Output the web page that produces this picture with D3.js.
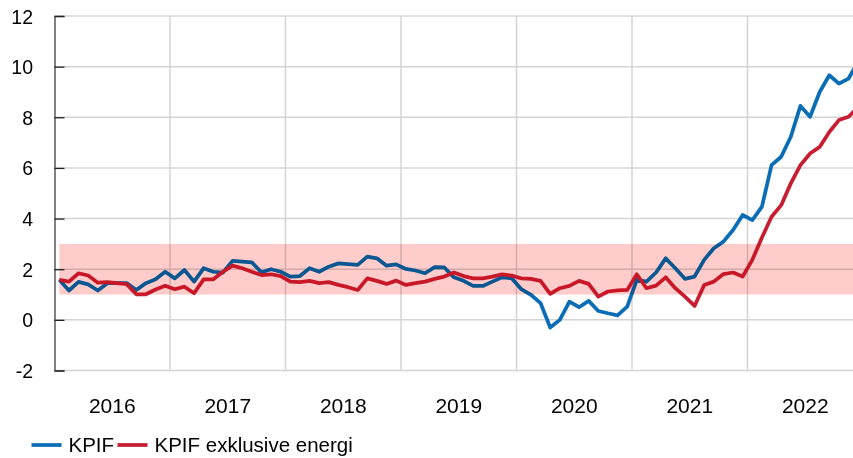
<!DOCTYPE html>
<html>
<head>
<meta charset="utf-8">
<script src="https://cdn.jsdelivr.net/npm/d3@7"></script>
<style>
  body { margin: 0; background: #fff; overflow: hidden; }
  svg { display: block; font-family: "Liberation Sans", Arial, sans-serif; }
</style>
</head>
<body>
<svg id="chart" width="853" height="458"></svg>
<script>
// monthly data jan 2016 - dec 2022
var years = ["2016", "2017", "2018", "2019", "2020", "2021", "2022"];

var kpif = [
  1.58, 1.16, 1.50, 1.40, 1.16, 1.45, 1.45, 1.45, 1.18, 1.45, 1.60, 1.90,
  1.64, 1.97, 1.51, 2.04, 1.90, 1.87, 2.33, 2.30, 2.27, 1.88, 2.00, 1.90,
  1.71, 1.73, 2.04, 1.90, 2.10, 2.23, 2.20, 2.17, 2.50, 2.43, 2.14, 2.19,
  2.01, 1.95, 1.84, 2.08, 2.07, 1.68, 1.54, 1.34, 1.34, 1.51, 1.68, 1.64,
  1.21, 0.99, 0.66, -0.30, 0.00, 0.72, 0.50, 0.75, 0.35, 0.26, 0.18, 0.52,
  1.58, 1.51, 1.87, 2.43, 2.04, 1.62, 1.71, 2.37, 2.83, 3.09, 3.55, 4.14,
  3.94, 4.47, 6.11, 6.44, 7.23, 8.45, 8.02, 9.00, 9.66, 9.33, 9.53, 10.2
];

var kpifExEnergy = [
  1.58, 1.51, 1.84, 1.75, 1.47, 1.49, 1.45, 1.41, 1.01, 1.01, 1.20, 1.35,
  1.21, 1.31, 1.05, 1.60, 1.60, 1.90, 2.14, 2.04, 1.90, 1.77, 1.80, 1.73,
  1.51, 1.49, 1.54, 1.45, 1.49, 1.38, 1.29, 1.18, 1.64, 1.54, 1.42, 1.55,
  1.38, 1.45, 1.51, 1.62, 1.71, 1.87, 1.73, 1.64, 1.64, 1.71, 1.80, 1.75,
  1.64, 1.62, 1.54, 1.03, 1.25, 1.34, 1.54, 1.42, 0.92, 1.12, 1.16, 1.18,
  1.80, 1.25, 1.35, 1.68, 1.25, 0.92, 0.55, 1.38, 1.51, 1.81, 1.87, 1.71,
  2.37, 3.25, 4.07, 4.53, 5.39, 6.11, 6.57, 6.83, 7.42, 7.89, 8.02, 8.40
];

// inflation target band
var targetLow = 1;
var targetHigh = 3;

var yTicks = [-2, 0, 2, 4, 6, 8, 10, 12];

var seriesNames = ["KPIF", "KPIF exklusive energi"];
var color = d3.scaleOrdinal()
  .domain(seriesNames)
  .range(["#0b6db5", "#c81e32"]);

var svg = d3.select("#chart");
var n = kpif.length;

// month index scale, one year is about 115.5 px
var x = d3.scaleLinear().domain([0, n]).range([54.5, 54.5 + n * 9.625]);
var y = d3.scaleLinear().domain([-2, 12]).range([370.5, 16]);

//Grid
svg.append("g")
  .selectAll("line")
  .data(yTicks)
  .enter()
  .append("line")
  .attr("x1", x(0))
  .attr("x2", x(n))
  .attr("y1", d => y(d))
  .attr("y2", d => y(d))
  .attr("stroke", "#d4d4d4")
  .attr("stroke-width", 1.5);

svg.append("g")
  .selectAll("line")
  .data(d3.range(1, years.length))
  .enter()
  .append("line")
  .attr("x1", d => x(d * 12))
  .attr("x2", d => x(d * 12))
  .attr("y1", y(12))
  .attr("y2", y(-2))
  .attr("stroke", "#d4d4d4")
  .attr("stroke-width", 1.5);

//Lines
var line = d3.line()
  .x((d, i) => x(i + 0.5))
  .y(d => y(d));

[kpif, kpifExEnergy].forEach(function (values, k) {
  svg.append("path")
    .datum(values)
    .attr("d", line)
    .attr("fill", "none")
    .attr("stroke", color(seriesNames[k]))
    .attr("stroke-width", 3.75)
    .attr("stroke-linejoin", "round");
});

//Target band, multiplied over the lines
var band = d3.area()
  .x((d, i) => x(i + 0.5))
  .y0(y(targetLow))
  .y1(y(targetHigh));

svg.append("path")
  .datum(kpif)
  .attr("d", band)
  .attr("fill", "#ffcccc")
  .style("mix-blend-mode", "multiply");

//Y axis
var yAxis = d3.axisRight(y)
  .tickValues(yTicks)
  .tickSize(10)
  .tickFormat(d => String(d));

var gy = svg.append("g")
  .attr("transform", "translate(" + x(0) + ",0)")
  .call(yAxis);
gy.select(".domain").attr("stroke", "#595959").attr("stroke-width", 1.5);
gy.selectAll(".tick line").attr("stroke", "#222").attr("stroke-width", 1.3);
gy.selectAll(".tick text")
  .attr("x", -21.5)
  .attr("dy", "0.36em")
  .attr("text-anchor", "end")
  .attr("fill", "#000")
  .style("font-size", "19.5px");

//X labels
svg.append("g")
  .selectAll("text")
  .data(years)
  .enter()
  .append("text")
  .attr("x", (d, i) => x(i * 12 + 6))
  .attr("y", 413)
  .attr("text-anchor", "middle")
  .style("font-size", "21px")
  .text(d => d);

//Legend
var legendX = [31.5, 117.5];
var legend = svg.append("g")
  .selectAll("g")
  .data(seriesNames)
  .enter()
  .append("g")
  .attr("transform", (d, i) => "translate(" + legendX[i] + ",445)");

legend.append("line")
  .attr("x1", 0)
  .attr("x2", 30)
  .attr("stroke", d => color(d))
  .attr("stroke-width", 3.75);

legend.append("text")
  .attr("x", 37)
  .attr("y", 7)
  .style("font-size", "20.5px")
  .text(d => d);
</script>
</body>
</html>
